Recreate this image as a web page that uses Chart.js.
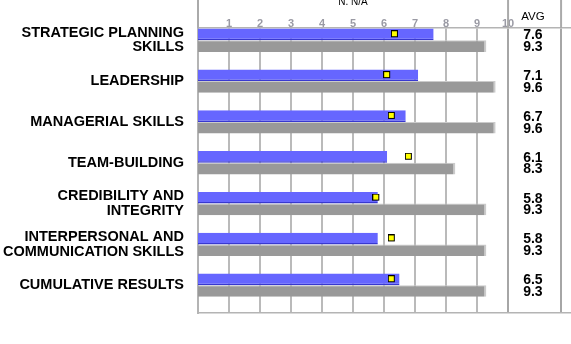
<!DOCTYPE html>
<html>
<head>
<meta charset="utf-8">
<script src="https://cdn.jsdelivr.net/npm/chart.js@4.4.0/dist/chart.umd.min.js"></script>
<style>
  body { margin: 0; background: #fff; }
</style>
</head>
<body>
<canvas id="skillsChart" width="571" height="344"></canvas>
<script>
var categories = [
    ['STRATEGIC PLANNING', 'SKILLS'],
    'LEADERSHIP',
    'MANAGERIAL SKILLS',
    'TEAM-BUILDING',
    ['CREDIBILITY AND', 'INTEGRITY'],
    ['INTERPERSONAL AND', 'COMMUNICATION SKILLS'],
    'CUMULATIVE RESULTS'
];
var selfScores = [7.6, 7.1, 6.7, 6.1, 5.8, 5.8, 6.5];
var otherScores = [9.3, 9.6, 9.6, 8.3, 9.3, 9.3, 9.3];
var markerScores = [6.35, 6.1, 6.25, 6.8, 5.75, 6.25, 6.25];
var scaleTicks = [1, 2, 3, 4, 5, 6, 7, 8, 9, 10];

// column to the right of the 0-10 scale
var avgEdge = 11.71;
var avgCenter = 10.8;

Chart.defaults.font.family = '"Liberation Sans", Arial, sans-serif';

// yellow square, drawn in the upper part so it sits on the blue bar
function makeMarker() {
    var c = document.createElement('canvas');
    c.width = 8;
    c.height = 20;
    var g = c.getContext('2d');
    g.fillStyle = '#ffff00';
    g.strokeStyle = '#000';
    g.lineWidth = 1;
    g.fillRect(0.5, 0.5, 6, 6);
    g.strokeRect(0.5, 0.5, 6, 6);
    return c;
}

var avgColumn = {
    id: 'avgColumn',
    beforeDatasetsDraw: function (chart) {
        var ctx = chart.ctx, area = chart.chartArea, x = chart.scales.x;
        ctx.save();
        ctx.strokeStyle = '#aaaaaa';
        ctx.lineWidth = 2;
        [area.left, x.getPixelForValue(10), x.getPixelForValue(avgEdge)].forEach(function (px) {
            ctx.beginPath();
            ctx.moveTo(px, 0);
            ctx.lineTo(px, area.top);
            ctx.stroke();
        });
        ctx.restore();
    },
    afterDatasetsDraw: function (chart) {
        var ctx = chart.ctx, area = chart.chartArea, x = chart.scales.x;
        var colX = x.getPixelForValue(avgCenter);
        ctx.save();
        ctx.fillStyle = '#000';
        ctx.textAlign = 'center';
        ctx.textBaseline = 'middle';
        ctx.font = '11.5px "Liberation Sans", Arial, sans-serif';
        ctx.fillText('AVG', colX, area.top - 11);
        ctx.font = '10px "Liberation Sans", Arial, sans-serif';
        ctx.textBaseline = 'alphabetic';
        ctx.fillText('N. N/A', x.getPixelForValue(5), 5);
        ctx.font = 'bold 14px "Liberation Sans", Arial, sans-serif';
        ctx.textBaseline = 'middle';
        [selfScores, otherScores].forEach(function (arr, d) {
            chart.getDatasetMeta(d).data.forEach(function (bar, i) {
                ctx.fillText(arr[i].toFixed(1), colX, bar.y + 1);
            });
        });
        ctx.restore();
    }
};

var ctx = document.getElementById('skillsChart').getContext('2d');
var myChart = new Chart(ctx, {
    type: 'bar',
    data: {
        datasets: [{
            label: 'Self',
            data: selfScores.map(function (v, i) { return {x: v, y: i}; }),
            backgroundColor: '#6666ff',
            borderColor: '#3838d0',
            borderWidth: {top: 0, right: 0, bottom: 1.5, left: 0},
            borderSkipped: false,
            categoryPercentage: 0.57,
            barPercentage: 1,
            order: 2
        }, {
            label: 'Others',
            data: otherScores.map(function (v, i) { return {x: v, y: i}; }),
            backgroundColor: '#999999',
            borderColor: '#cbcbcb',
            borderWidth: {top: 1, right: 2, bottom: 0, left: 0},
            borderSkipped: false,
            categoryPercentage: 0.57,
            barPercentage: 1,
            order: 2
        }, {
            type: 'line',
            label: 'Norm',
            data: markerScores.map(function (v, i) { return {x: v, y: i}; }),
            showLine: false,
            pointStyle: makeMarker(),
            pointRadius: 4,
            order: 1
        }]
    },
    options: {
        indexAxis: 'y',
        responsive: false,
        animation: false,
        layout: { autoPadding: false, padding: {top: 0, right: 0, bottom: 31, left: 0} },
        plugins: {
            legend: { display: false },
            tooltip: { enabled: false }
        },
        scales: {
            x: {
                type: 'linear',
                position: 'top',
                min: 0,
                max: 12.03,
                afterBuildTicks: function (s) {
                    s.ticks = scaleTicks.concat([avgEdge]).map(function (v) { return {value: v}; });
                },
                afterFit: function (s) { s.height = 28; },
                ticks: {
                    autoSkip: false,
                    maxRotation: 0,
                    padding: -3,
                    color: '#9a9aa4',
                    font: { size: 11, weight: 'bold' },
                    callback: function (v) { return v > 10 ? '' : v; }
                },
                grid: {
                    drawTicks: false,
                    color: function (c) { return c.tick && c.tick.value >= 10 ? '#a6a6a6' : '#bababa'; },
                    lineWidth: 2
                },
                border: { display: true, color: '#b4b4b4', width: 1.5 }
            },
            x2: {
                type: 'linear',
                position: 'bottom',
                display: true,
                afterFit: function (s) { s.height = 0; },
                ticks: { display: false },
                grid: { drawOnChartArea: false, drawTicks: false },
                border: { color: '#b4b4b4', width: 1.5 }
            },
            y: {
                type: 'linear',
                reverse: true,
                offset: false,
                min: -0.3,
                max: 6.68,
                afterBuildTicks: function (s) {
                    s.ticks = categories.map(function (c, i) { return {value: i}; });
                },
                afterFit: function (s) { s.width = 198; },
                ticks: {
                    autoSkip: false,
                    padding: 14,
                    color: '#000',
                    font: { size: 14.5, weight: 'bold', lineHeight: 1 },
                    callback: function (v) { return categories[v]; }
                },
                grid: { offset: false, drawOnChartArea: false, drawTicks: false },
                border: { color: '#b4b4b4', width: 2 }
            }
        }
    },
    plugins: [avgColumn]
});
</script>
</body>
</html>
